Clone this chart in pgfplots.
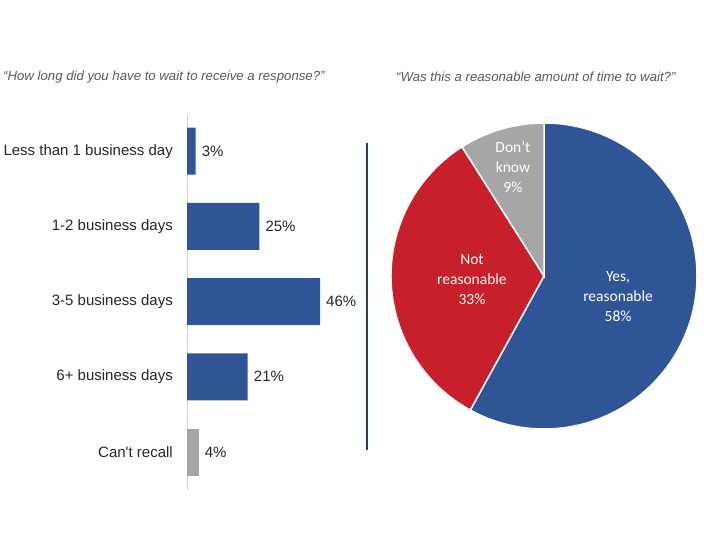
\documentclass[border=0pt]{standalone}
\usepackage{fontspec}
\usepackage{pgfplots}
\pgfplotsset{compat=1.18}
\newfontfamily\libfont{Liberation Sans}
\newfontfamily\carfont{Carlito}
\definecolor{myblue}{RGB}{47,85,151}
\definecolor{myred}{RGB}{200,32,42}
\definecolor{mygray}{RGB}{166,166,166}
\definecolor{titlegray}{RGB}{89,89,89}
\definecolor{navy}{RGB}{44,62,92}
\definecolor{axisgray}{RGB}{210,210,210}

\begin{document}
\begin{tikzpicture}
\path[use as bounding box] (0pt,0pt) rectangle (720pt,540pt);

% titles
\node[anchor=west, font=\libfont\itshape\fontsize{13.2}{15}\selectfont, text=titlegray, inner sep=0pt]
  at (3pt,463pt) {“How long did you have to wait to receive a response?”};
\node[anchor=west, font=\libfont\itshape\fontsize{13.2}{15}\selectfont, text=titlegray, inner sep=0pt]
  at (396pt,463pt) {“Was this a reasonable amount of time to wait?”};

% left: wait time
\begin{axis}[
    at={(187pt,50.4pt)}, anchor=south west,
    scale only axis,
    width=144.6pt, height=376pt,
    xbar, bar width=47pt, bar shift=0pt,
    xmin=0, xmax=50,
    ymin=-0.5, ymax=4.5,
    y dir=reverse,
    axis x line=none,
    axis y line*=left,
    y axis line style={axisgray, line width=1pt, -},
    ytick={0,1,2,3,4},
    yticklabels={Less than 1 business day, 1-2 business days, 3-5 business days, 6+ business days, Can't recall},
    major tick length=0pt,
    yticklabel style={font=\libfont\fontsize{15}{17}\selectfont, text=black!85, inner sep=0pt, xshift=-14pt},
    point meta=x,
    nodes near coords={\pgfmathprintnumber[assume math mode=true]{\pgfplotspointmeta}\%},
    every node near coord/.append style={font=\libfont\fontsize{15}{17}\selectfont, text=black!85, anchor=west, inner sep=0pt, xshift=6pt},
    clip=false,
]
\addplot[fill=myblue, draw=none] coordinates {(3,0) (25,1) (46,2) (21,3)};
\addplot[fill=mygray, draw=none] coordinates {(4,4)};
\end{axis}

% separator
\draw[navy, line width=1.2pt] (367pt,397pt) -- (367pt,90pt);

% right: reasonable?
\def\yes{58}\def\notr{33}\def\dk{9}
\pgfmathsetmacro\aA{90}
\pgfmathsetmacro\aB{90-3.6*\yes}
\pgfmathsetmacro\aC{\aB-3.6*\notr}
\pgfmathsetmacro\aD{\aC-3.6*\dk}
\begin{axis}[
    at={(544pt,264pt)}, anchor=center,
    scale only axis,
    width=306pt, height=306pt,
    xmin=-1, xmax=1, ymin=-1, ymax=1,
    hide axis, clip=false,
]
\fill[myblue, draw=white, line width=1.5pt] (axis cs:0,0) -- (axis cs:{cos(\aA)},{sin(\aA)}) arc[start angle=\aA, end angle=\aB, radius=153pt] -- cycle;
\fill[myred, draw=white, line width=1.5pt] (axis cs:0,0) -- (axis cs:{cos(\aB)},{sin(\aB)}) arc[start angle=\aB, end angle=\aC, radius=153pt] -- cycle;
\fill[mygray, draw=white, line width=1.5pt] (axis cs:0,0) -- (axis cs:{cos(\aC)},{sin(\aC)}) arc[start angle=\aC, end angle=\aD, radius=153pt] -- cycle;
\node[text=white, align=center, font=\carfont\fontsize{15.5}{20}\selectfont] at (axis cs:0.484,-0.137) {Yes,\\reasonable\\58\%};
\node[text=white, align=center, font=\carfont\fontsize{15.5}{20}\selectfont] at (axis cs:-0.471,-0.026) {Not\\reasonable\\33\%};
\node[text=white, align=center, font=\carfont\fontsize{15.5}{20}\selectfont] at (axis cs:-0.203,0.712) {Don’t\\know\\9\%};
\end{axis}
\end{tikzpicture}
\end{document}
